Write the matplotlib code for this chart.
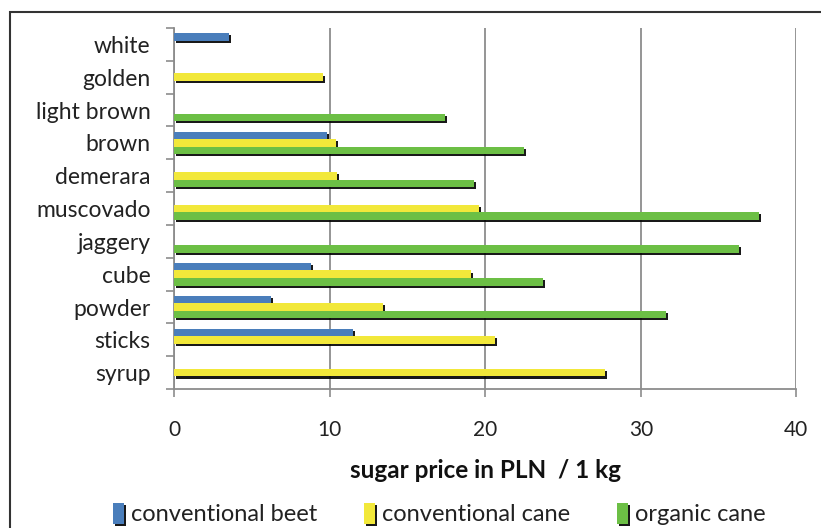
import matplotlib
matplotlib.use("Agg")
import matplotlib.pyplot as plt
import matplotlib.patheffects as pe
from matplotlib.patches import Rectangle, Patch
import numpy as np

plt.rcParams["font.family"] = ["Lato", "DejaVu Sans"]

sugars = ["white", "golden", "light brown", "brown", "demerara", "muscovado",
          "jaggery", "cube", "powder", "sticks", "syrup"]
beet = [3.5, 0, 0, 9.8, 0, 0, 0, 8.8, 6.2, 11.5, 0]
cane = [0, 9.6, 0, 10.4, 10.5, 19.6, 0, 19.1, 13.4, 20.6, 27.7]
organic = [0, 0, 17.4, 22.5, 19.3, 37.6, 36.3, 23.7, 31.6, 0, 0]

series = [("conventional beet", beet, "#4a7ebb"),
          ("conventional cane", cane, "#f2e83a"),
          ("organic cane", organic, "#6cbf45")]

shadow = [pe.SimplePatchShadow(offset=(1.5, -1.5), shadow_rgbFace="black", alpha=0.9), pe.Normal()]

fig = plt.figure(figsize=(8.21, 5.28), dpi=100)
ax = fig.add_axes([0.212, 0.263, 0.758, 0.684])

y = np.arange(len(sugars))
h = 0.23
for k, (name, vals, col) in enumerate(series):
    vals = np.array(vals, dtype=float)
    keep = vals > 0
    bars = ax.barh(y[keep] + (k - 1) * h, vals[keep], height=h, color=col, zorder=3)
    for b in bars:
        b.set_path_effects(shadow)

ax.set_xlim(0, 40)
ax.set_ylim(len(sugars) - 0.5, -0.5)
ax.set_xticks([0, 10, 20, 30, 40])
ax.xaxis.grid(True, color="#8c8c8c", linewidth=1.3, zorder=0)
ax.tick_params(axis="x", length=6, width=1.2, color="#8c8c8c", labelsize=15, pad=16,
               labelcolor="#222222")

# category labels at centres, tick marks on the boundaries
ax.set_yticks(np.arange(len(sugars) + 1) - 0.5)
ax.set_yticklabels([])
ax.tick_params(axis="y", which="major", length=6, width=1.2, color="#8c8c8c")
ax.set_yticks(y, minor=True)
ax.set_yticklabels(sugars, minor=True, fontsize=16.5, color="#222222")
ax.tick_params(axis="y", which="minor", length=0, pad=17)

for s in ("top", "right"):
    ax.spines[s].set_visible(False)
for s in ("left", "bottom"):
    ax.spines[s].set_color("#8c8c8c")
    ax.spines[s].set_linewidth(1.3)

ax.set_xlabel("sugar price in PLN  / 1 kg", fontsize=17.5, fontweight="bold", labelpad=14,
              color="#111111")

handles = [Patch(facecolor=c, label=n, path_effects=shadow) for n, _, c in series]
fig.legend(handles=handles, loc="lower center", bbox_to_anchor=(0.535, -0.035), ncol=3,
           frameon=False, fontsize=17, handlelength=0.45, handleheight=1.0,
           handletextpad=0.3, columnspacing=2.0, labelcolor="#222222")

fig.patches.append(Rectangle((10 / 821, -0.1), 1.2, 1 - 12 / 528 + 0.1, transform=fig.transFigure,
                             fill=False, edgecolor="#333333", linewidth=1.5))

fig.savefig("out.png", dpi=100)
